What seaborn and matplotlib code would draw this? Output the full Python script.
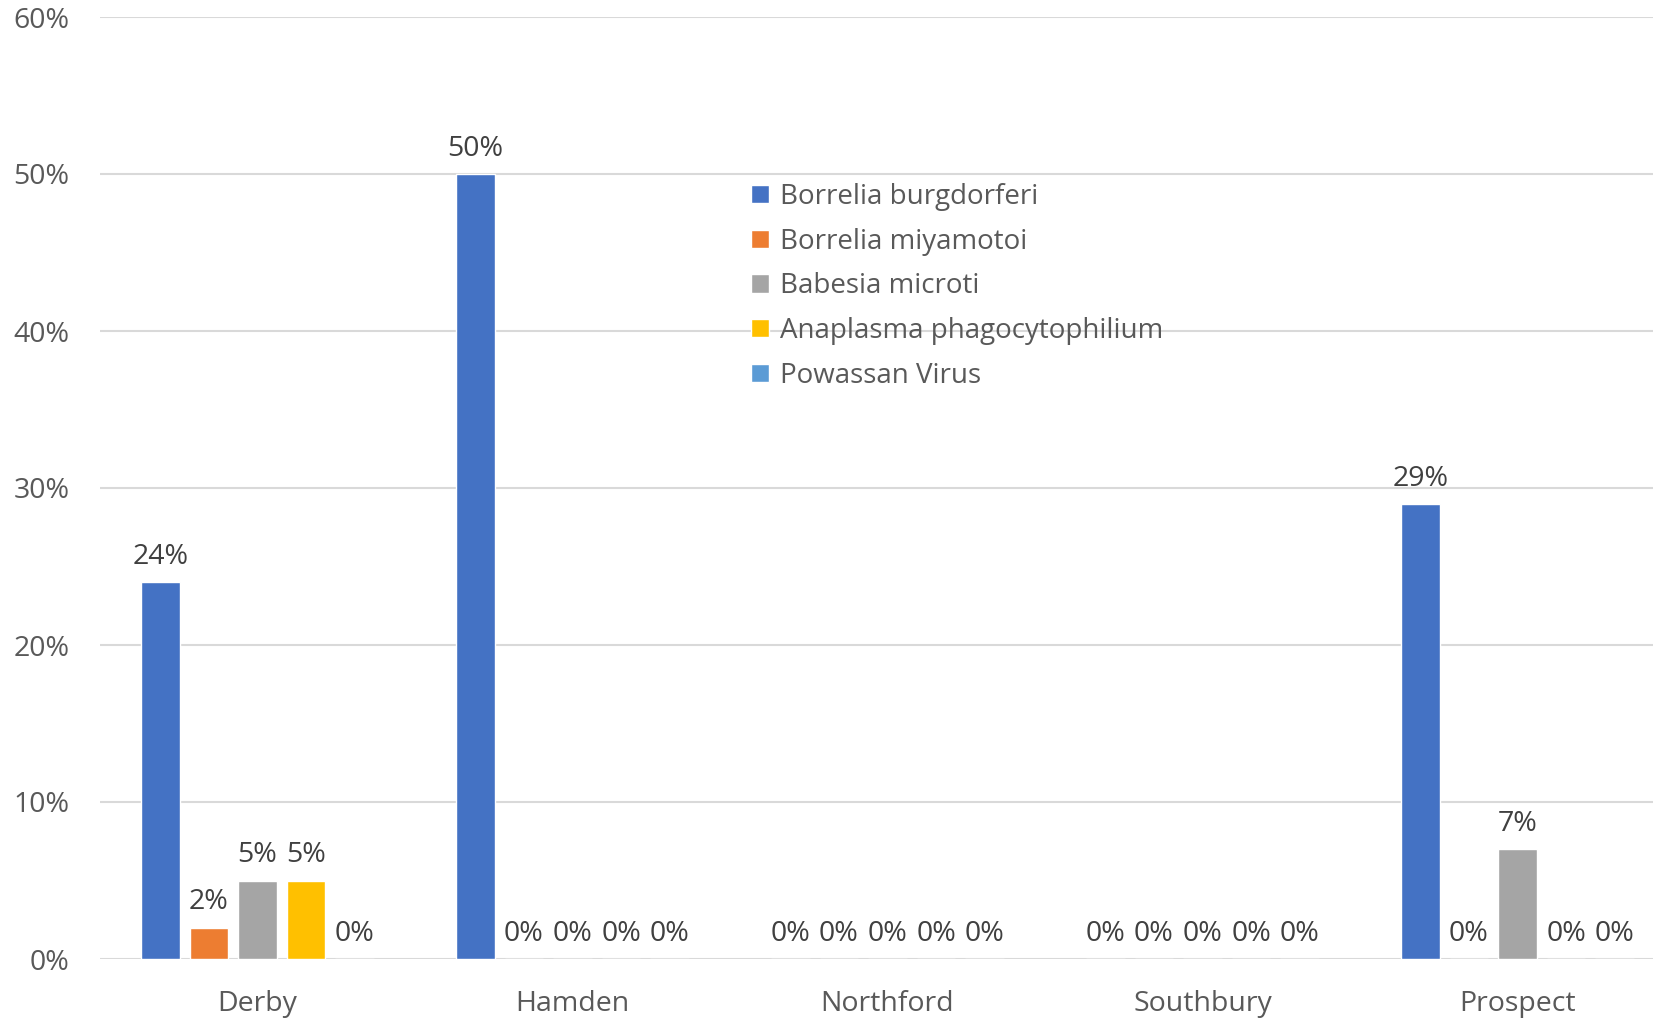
import numpy as np
import pandas as pd
import matplotlib.pyplot as plt
import seaborn as sns
from matplotlib.ticker import PercentFormatter

sns.set_theme(style="white")
plt.rcParams["font.family"] = ["Open Sans", "DejaVu Sans"]

# ── Data ────────────────────────────────────────────────────────────────────
towns = ["Derby", "Hamden", "Northford", "Southbury", "Prospect"]
pathogens = ["Borrelia burgdorferi", "Borrelia miyamotoi", "Babesia microti",
             "Anaplasma phagocytophilium", "Powassan Virus"]
colors = ["#4472C4", "#ED7D31", "#A5A5A5", "#FFC000", "#5B9BD5"]

borrelia_burgdorferi = [24, 50, 0, 0, 29]
borrelia_miyamotoi = [2, 0, 0, 0, 0]
babesia_microti = [5, 0, 0, 0, 7]
anaplasma = [5, 0, 0, 0, 0]
powassan = [0, 0, 0, 0, 0]

series = [borrelia_burgdorferi, borrelia_miyamotoi, babesia_microti, anaplasma, powassan]
df = pd.DataFrame([
    {"Town": t, "Pathogen": p, "Rate": v}
    for p, vals in zip(pathogens, series)
    for t, v in zip(towns, vals)
])

# ── Plot ────────────────────────────────────────────────────────────────────
fs = 20.5
fig = plt.figure(figsize=(16.53, 10.23), dpi=100)
ax = fig.add_axes([100 / 1653, 64 / 1023, 1575 / 1653, 942 / 1023])

sns.barplot(data=df, x="Town", y="Rate", hue="Pathogen", order=towns,
            hue_order=pathogens, palette=colors, saturation=1,
            width=0.77, gap=0.2, errorbar=None, ax=ax)

for cont in ax.containers:
    ax.bar_label(cont, labels=[f"{b.get_height():.0f}%" for b in cont],
                 padding=8, fontsize=fs, color="#404040")

ax.set_ylim(0, 60)
ax.set_yticks(range(0, 61, 10))
ax.yaxis.set_major_formatter(PercentFormatter(decimals=0))
ax.set_xlim(-0.5, 4.5)
ax.grid(axis="y", color="#D9D9D9", lw=1.5)
ax.set_axisbelow(True)
for s in ax.spines.values():
    s.set_visible(False)
ax.tick_params(axis="both", length=0, labelsize=fs, labelcolor="#595959")
ax.tick_params(axis="y", pad=22)
ax.tick_params(axis="x", pad=22)
ax.set_xlabel(""); ax.set_ylabel("")

ax.legend(loc="upper left", bbox_to_anchor=(737 / 1653, 1 - 169 / 1023),
          bbox_transform=fig.transFigure, frameon=False, fontsize=20,
          labelcolor="#595959", handlelength=0.65, handleheight=0.65,
          handletextpad=0.4, labelspacing=0.6, borderpad=0)

fig.savefig("out.png", dpi=100)
